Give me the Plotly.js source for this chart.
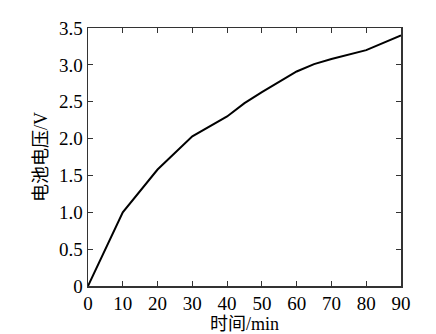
<!DOCTYPE html>
<html>
<head>
<meta charset="utf-8">
<script src="https://cdn.plot.ly/plotly-3.0.1.min.js"></script>
<style>html,body{margin:0;padding:0;background:#fff;}#chart{width:436px;height:334px;}</style>
</head>
<body>
<div id="chart"></div>
<script>
const timeMin = [0, 10, 20, 30, 40, 43, 45, 50, 60, 65, 70, 80, 90];
const voltage = [0, 1.0, 1.58, 2.03, 2.3, 2.41, 2.48, 2.63, 2.91, 3.01, 3.08, 3.2, 3.4];
const xTicks = [0, 10, 20, 30, 40, 50, 60, 70, 80, 90];
const yTickVals = [0, 0.5, 1.0, 1.5, 2.0, 2.5, 3.0, 3.5];
const yTickText = ['0', '0.5', '1.0', '1.5', '2.0', '2.5', '3.0', '3.5'];

const fontFam = '"Liberation Serif", "Noto Sans CJK SC", serif';

Plotly.newPlot('chart', [{
  x: timeMin, y: voltage, type: 'scatter', mode: 'lines',
  line: {color: '#000', width: 2}
}], {
  width: 436, height: 334,
  margin: {l: 88, r: 35, t: 28, b: 48},
  paper_bgcolor: '#fff', plot_bgcolor: '#fff',
  showlegend: false,
  font: {family: fontFam, color: '#000', size: 19},
  xaxis: {
    range: [0, 90], tickvals: xTicks, ticktext: xTicks.map(String),
    ticks: 'inside', ticklen: 5, tickcolor: '#333', tickwidth: 1,
    showline: true, linecolor: '#333', linewidth: 1.5, mirror: 'ticks',
    showgrid: false, zeroline: false,
    tickfont: {family: fontFam, size: 19, color: '#000'},
    title: {text: '时间/min', font: {family: fontFam, size: 18, color: '#000'}, standoff: 3}
  },
  yaxis: {
    range: [0, 3.5], tickvals: yTickVals, ticktext: yTickText,
    ticks: 'inside', ticklen: 5, tickcolor: '#333', tickwidth: 1,
    showline: true, linecolor: '#333', linewidth: 1.5, mirror: 'ticks',
    showgrid: false, zeroline: false,
    tickfont: {family: fontFam, size: 19, color: '#000'},
    title: {text: '电池电压/V', font: {family: fontFam, size: 18, color: '#000'}, standoff: 6}
  }
}, {displayModeBar: false, staticPlot: true});
</script>
</body>
</html>
